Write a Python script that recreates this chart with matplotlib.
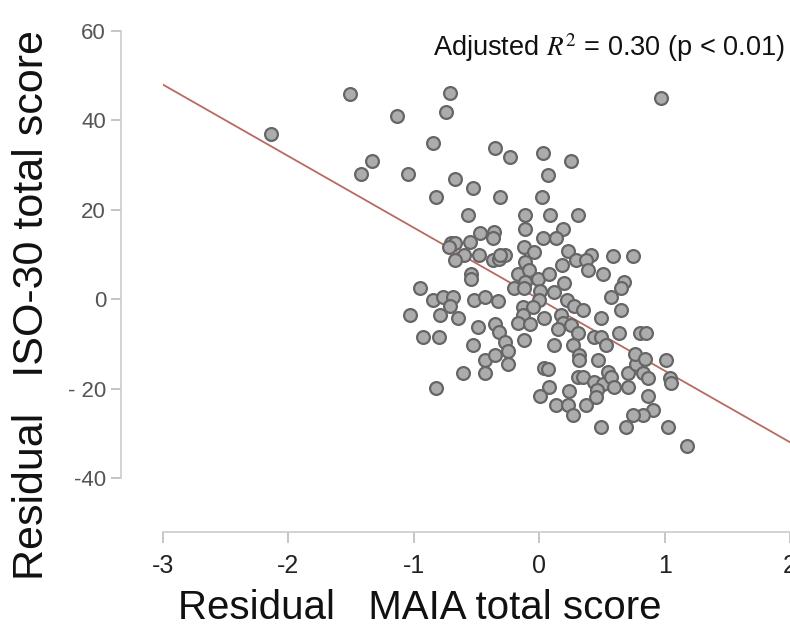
import matplotlib
matplotlib.use('Agg')
import matplotlib.pyplot as plt
import numpy as np

plt.rcParams['font.family'] = ['Liberation Sans', 'DejaVu Sans']
plt.rcParams['mathtext.fontset'] = 'stix'

# residuals
maia_resid = [
    -2.14, -1.51, -0.71, -1.13, -0.74, -0.85, -1.33, -1.42, -1.05, -0.67,
    -0.53, -0.82, -0.57, -0.70, -0.67, -0.72, -0.55, 0.97, -0.35, -0.23,
    0.03, 0.25, 0.07, -0.31, 0.02, -0.11, 0.09, 0.31, -0.47, -0.36,
    -0.37, -0.11, 0.19, 0.03, 0.13, -0.12, -0.04, 0.23, -0.60, -0.48,
    -0.67, -0.37, -0.32, -0.27, -0.31, -0.11, 0.29, 0.41, 0.37, 0.59,
    0.75, -0.54, -0.54, -0.17, 0.18, 0.39, 0.51, -0.08, -0.11, -0.01,
    0.08, -0.95, -0.20, -0.12, 0.01, 0.12, 0.20, 0.68, 0.65, 0.57,
    -0.85, -0.77, -0.69, -0.71, -0.52, -0.43, -0.33, 0.00, -0.13, -0.05,
    -0.13, 0.22, 0.28, 0.35, 0.65, 0.04, 0.17, 0.19, 0.49, -1.03,
    -0.79, -0.65, -0.49, -0.35, -0.32, -0.17, -0.07, 0.25, 0.31, 0.15,
    0.64, 0.80, 0.85, -0.93, -0.80, -0.53, -0.27, -0.12, -0.25, 0.12,
    0.27, 0.44, 0.49, 0.53, -0.43, -0.35, -0.25, -0.61, -0.43, -0.82,
    0.32, 0.32, 0.47, 0.04, 0.07, 0.31, 0.35, 0.44, 0.51, 0.55,
    0.57, 0.60, 0.46, 0.71, 0.77, 0.76, 0.84, 0.83, 0.87, 0.71,
    1.01, 1.04, 1.05, 0.08, 0.01, 0.24, 0.13, 0.23, 0.27, 0.37,
    0.45, 0.87, 0.91, 0.83, 0.75, 0.49, 0.69, 1.03, 1.18,
]
iso_resid = [
    36.9, 46.0, 46.2, 41.0, 41.9, 35.0, 30.9, 27.9, 27.9, 26.8,
    24.9, 22.9, 18.8, 12.6, 12.6, 11.7, 12.8, 45.0, 33.9, 31.8,
    32.8, 30.9, 27.7, 22.9, 22.9, 18.8, 18.8, 18.8, 14.7, 15.1,
    13.6, 15.8, 15.8, 13.6, 13.8, 11.7, 10.6, 10.8, 9.8, 9.8,
    8.7, 8.7, 8.9, 9.8, 9.8, 8.3, 8.7, 9.8, 8.7, 9.6,
    9.6, 5.7, 4.6, 5.7, 7.6, 6.5, 5.7, 6.5, 3.9, 4.6,
    5.6, 2.6, 2.6, 2.6, 1.9, 1.6, 3.6, 3.9, 2.6, 0.5,
    -0.2, 0.5, 0.5, -1.6, -0.2, 0.4, -0.4, -0.2, -1.7, -1.7,
    -3.6, -0.2, -1.6, -2.5, -2.5, -4.3, -3.6, -5.4, -4.3, -3.6,
    -3.6, -4.3, -6.3, -5.6, -7.3, -5.4, -5.6, -5.8, -7.5, -6.6,
    -7.5, -7.5, -7.5, -8.4, -8.4, -10.3, -9.5, -9.2, -11.6, -10.3,
    -10.3, -8.4, -8.4, -10.3, -13.6, -12.5, -14.6, -16.6, -16.6, -19.8,
    -12.5, -13.6, -13.5, -15.5, -15.7, -17.5, -17.5, -18.5, -18.9, -16.3,
    -17.4, -19.6, -20.4, -16.6, -14.4, -12.2, -13.3, -16.6, -17.7, -19.6,
    -13.6, -17.7, -18.7, -19.6, -21.7, -20.5, -23.7, -23.7, -26.0, -23.7,
    -21.9, -21.7, -24.7, -26.0, -26.0, -28.7, -28.7, -28.7, -32.9,
]

# fitted line
fit_slope = -16.0
fit_intercept = 0.0

x_ticks = [-3, -2, -1, 0, 1, 2]
x_ticklabels = ['-3', '-2', '-1', '0', '1', '2']
y_ticks = [-40, -20, 0, 20, 40, 60]
y_ticklabels = ['-40', '- 20', '0', '20', '40', '60']

fig = plt.figure(figsize=(7.9, 6.3), dpi=100)
ax = fig.add_axes([163 / 790, 152 / 630, 627 / 790, 447 / 630])

xl = np.array([-3, 2])
ax.plot(xl, fit_intercept + fit_slope * xl, color='#b86a62', lw=1.3, zorder=2)
ax.scatter(maia_resid, iso_resid, s=85, facecolor='#acacac', edgecolor='#666666',
           linewidths=1.6, zorder=3)

ax.set_xlim(-3, 2)
ax.set_ylim(-40, 60)

for s in ['top', 'right']:
    ax.spines[s].set_visible(False)
ax.spines['left'].set_position(('outward', 30))
ax.spines['bottom'].set_position(('outward', 39))
ax.spines['left'].set_bounds(-40, 60)
ax.spines['bottom'].set_bounds(-3, 2)
ax.spines['left'].set_color('#cccccc')
ax.spines['bottom'].set_color('#cccccc')
ax.spines['left'].set_linewidth(1.2)
ax.spines['bottom'].set_linewidth(1.2)

ax.set_xticks(x_ticks)
ax.set_xticklabels(x_ticklabels)
ax.set_yticks(y_ticks)
ax.set_yticklabels(y_ticklabels)
ax.tick_params(axis='x', length=8, width=1.2, color='#bbbbbb', pad=8,
               labelsize=18, labelcolor='#222222')
ax.tick_params(axis='y', length=7, width=1.2, color='#bbbbbb', pad=4,
               labelsize=16, labelcolor='#555555')

fig.text(32 / 790, 1 - 305 / 630, 'Residual   ISO-30 total score', rotation=90,
         ha='center', va='center', fontsize=31, color='#111111')
fig.text(420 / 790, 1 - 608 / 630, 'Residual   MAIA total score',
         ha='center', va='center', fontsize=29, color='#111111')

ax.text(0.992, 0.962, 'Adjusted $R^2$ = 0.30 (p < 0.01)', transform=ax.transAxes,
        ha='right', va='center', fontsize=19.5, color='#111111')

fig.savefig('out.png', dpi=100)
